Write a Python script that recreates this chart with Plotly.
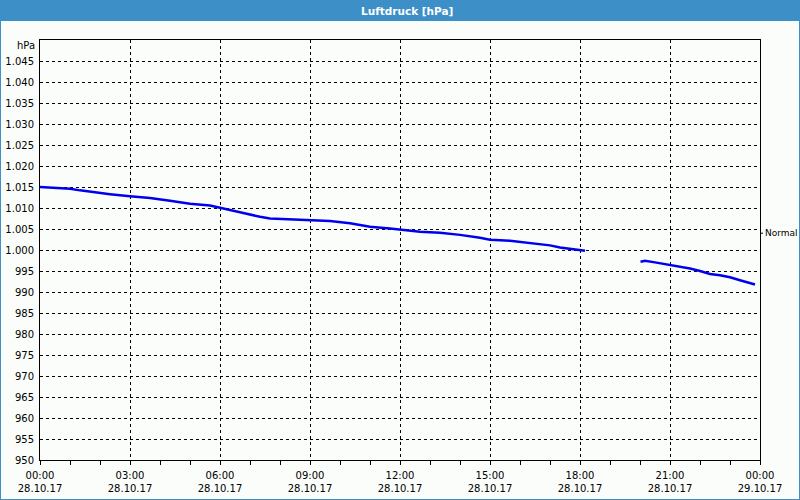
import plotly.graph_objects as go

# ---- data ----
seg1_times = ["00:00", "00:20", "01:00", "01:20", "02:00", "02:20", "03:00", "03:40",
              "04:20", "05:00", "05:40", "06:00", "06:40", "07:20", "07:40", "08:40",
              "09:00", "09:40", "10:20", "11:00", "11:40", "12:00", "12:40", "13:20",
              "14:00", "14:40", "15:00", "15:40", "16:20", "17:00", "17:20", "17:40", "18:10"]
seg1_values = [1015.0, 1014.9, 1014.6, 1014.2, 1013.5, 1013.3, 1012.8, 1012.4,
               1011.7, 1011.0, 1010.6, 1010.1, 1009.0, 1007.9, 1007.5, 1007.2,
               1007.1, 1006.9, 1006.35, 1005.55, 1005.1, 1004.8, 1004.35, 1004.1,
               1003.6, 1002.9, 1002.45, 1002.2, 1001.6, 1001.1, 1000.6, 1000.3, 999.8]
seg2_times = ["20:01", "20:10", "20:30", "20:46", "21:00", "21:20", "21:40", "22:00",
              "22:20", "22:40", "23:00", "23:20", "23:33", "23:50"]
seg2_values = [997.2, 997.45, 997.05, 996.75, 996.5, 996.1, 995.6, 995.0,
               994.3, 994.0, 993.5, 992.8, 992.3, 991.8]

normal_value = 1004.0

y_tick_vals = [950, 955, 960, 965, 970, 975, 980, 985, 990, 995, 1000,
               1005, 1010, 1015, 1020, 1025, 1030, 1035, 1040, 1045]
y_tick_text = ["950", "955", "960", "965", "970", "975", "980", "985", "990", "995", "1.000",
               "1.005", "1.010", "1.015", "1.020", "1.025", "1.030", "1.035", "1.040", "1.045"]
x_tick_vals = ["2017-10-28 00:00", "2017-10-28 03:00", "2017-10-28 06:00", "2017-10-28 09:00",
               "2017-10-28 12:00", "2017-10-28 15:00", "2017-10-28 18:00", "2017-10-28 21:00",
               "2017-10-29 00:00"]
x_tick_text = ["00:00<br>28.10.17", "03:00<br>28.10.17", "06:00<br>28.10.17", "09:00<br>28.10.17",
               "12:00<br>28.10.17", "15:00<br>28.10.17", "18:00<br>28.10.17", "21:00<br>28.10.17",
               "00:00<br>29.10.17"]

DAY = "2017-10-28 "
x = [DAY + t for t in seg1_times] + [None] + [DAY + t for t in seg2_times]
y = seg1_values + [None] + seg2_values

W, H = 800, 500
L, R, T, B = 40, 40, 40, 40
PW, PH = W - L - R, H - T - B

def px(xp):
    return (xp - L) / PW

def py(yp):
    return (H - B - yp) / PH

BLUE = "#3d8fc7"
FONT = "DejaVu Sans"

fig = go.Figure()
fig.add_trace(go.Scatter(x=x, y=y, mode="lines", connectgaps=False,
                         line=dict(color="#0000ee", width=2.5), hoverinfo="skip"))

fig.update_layout(
    width=W, height=H,
    margin=dict(l=L, r=R, t=T, b=B, autoexpand=False),
    paper_bgcolor=BLUE,
    plot_bgcolor="#fbfdfb",
    showlegend=False,
    font=dict(family=FONT, size=10, color="#000000"),
    xaxis=dict(
        type="date",
        range=["2017-10-28 00:00", "2017-10-29 00:00"],
        tickvals=x_tick_vals, ticktext=x_tick_text,
        ticks="outside", ticklen=4, tickcolor="black", ticklabelstandoff=2,
        minor=dict(dtick=3600000, ticks="outside", ticklen=4, tickcolor="black", showgrid=False),
        showgrid=True, gridcolor="black", gridwidth=1, griddash="3px,3px",
        showline=True, linecolor="black", linewidth=1, mirror=True,
        zeroline=False, fixedrange=True, automargin=False,
    ),
    yaxis=dict(
        range=[950, 1050],
        tickvals=y_tick_vals, ticktext=y_tick_text,
        ticks="", ticklabelstandoff=3,
        showgrid=True, gridcolor="black", gridwidth=1, griddash="3px,3px",
        showline=True, linecolor="black", linewidth=1, mirror=True,
        zeroline=False, fixedrange=True, automargin=False,
    ),
)

# inner light panel (everything but the blue frame/title bar)
fig.add_shape(type="rect", xref="paper", yref="paper", layer="below",
              x0=px(1), x1=px(W - 1), y0=py(H - 1), y1=py(21),
              fillcolor="#fbfdfb", line=dict(width=0))

# title
fig.add_annotation(xref="paper", yref="paper", x=px(407), y=py(10.5),
                   text="<b>Luftdruck [hPa]</b>", showarrow=False,
                   xanchor="center", yanchor="middle",
                   font=dict(family=FONT, size=10.5, color="white"))

# unit label
fig.add_annotation(xref="paper", yref="paper", x=px(37), y=py(45.5),
                   text="hPa", showarrow=False, xanchor="right", yanchor="middle",
                   font=dict(family=FONT, size=10, color="black"))

# "Normal" marker on the right axis
fig.add_shape(type="line", xref="paper", yref="y", x0=1, x1=px(763),
              y0=normal_value, y1=normal_value, line=dict(color="black", width=1))
fig.add_annotation(xref="paper", yref="y", x=px(763), y=normal_value,
                   text="Normal", showarrow=False, xanchor="left", yanchor="middle",
                   font=dict(family=FONT, size=9, color="black"))

fig.write_html("out.html")
